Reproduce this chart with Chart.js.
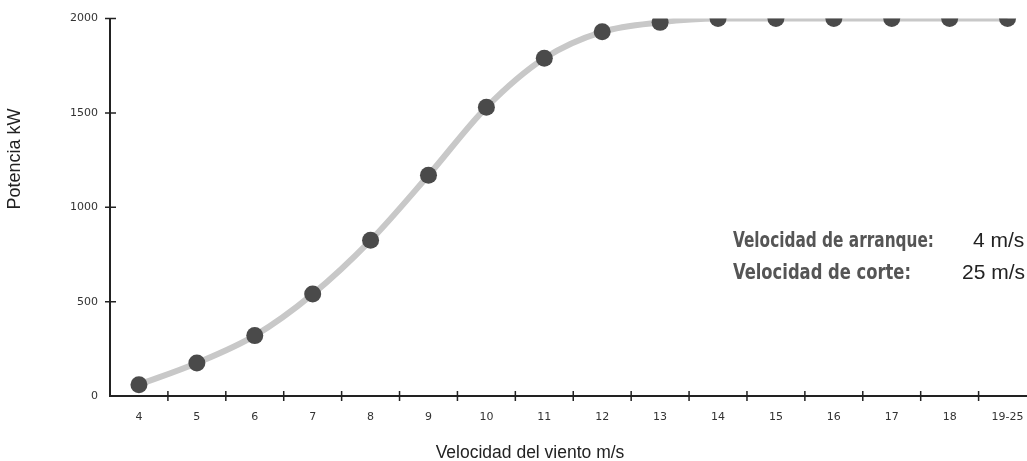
<!DOCTYPE html>
<html>
<head>
<meta charset="utf-8">
<script src="https://cdn.jsdelivr.net/npm/chart.js@4/dist/chart.umd.min.js"></script>
<style>
    html, body { margin: 0; padding: 0; background: #fff; overflow: hidden; }
    #wrap { position: relative; width: 1045px; height: 461px; }
</style>
</head>
<body>
<div id="wrap"><canvas id="powerCurve"></canvas></div>
<script>
const speeds = ['4', '5', '6', '7', '8', '9', '10', '11', '12', '13', '14', '15', '16', '17', '18', '19-25'];
const powerKW = [60, 175, 320, 540, 825, 1170, 1530, 1790, 1930, 1980, 2000, 2000, 2000, 2000, 2000, 2000];
const yTicks = [0, 500, 1000, 1500, 2000];
const noteLabels = ['Velocidad de arranque:', 'Velocidad de corte:'];
const noteValues = ['4 m/s', '25 m/s'];

// cross ticks on both axes, axis titles and the little spec box
const axisDecor = {
    id: 'axisDecor',
    afterDraw(chart) {
        const { ctx, scales: { x, y }, chartArea } = chart;
        ctx.save();
        ctx.strokeStyle = '#222';
        ctx.lineWidth = 1.5;
        ctx.beginPath();
        for (let i = 0; i < speeds.length - 1; i++) {
            const px = (x.getPixelForValue(i) + x.getPixelForValue(i + 1)) / 2;
            ctx.moveTo(px, chartArea.bottom - 5);
            ctx.lineTo(px, chartArea.bottom + 5);
        }
        yTicks.slice(1).forEach(v => {
            const py = y.getPixelForValue(v);
            ctx.moveTo(chartArea.left - 5, py);
            ctx.lineTo(chartArea.left + 6, py);
        });
        ctx.stroke();

        // axis titles
        ctx.fillStyle = '#222';
        ctx.font = '17.5px "Liberation Sans", Arial, sans-serif';
        ctx.textAlign = 'center';
        ctx.textBaseline = 'alphabetic';
        ctx.fillText('Velocidad del viento m/s', 530, 458);
        ctx.save();
        ctx.translate(20, 159);
        ctx.rotate(-Math.PI / 2);
        ctx.font = '18px "Liberation Sans", Arial, sans-serif';
        ctx.fillText('Potencia kW', 0, 0);
        ctx.restore();

        noteLabels.forEach((label, i) => {
            const base = 247 + i * 32;
            ctx.fillStyle = '#555';
            ctx.font = 'bold 21px "Liberation Sans Narrow", "DejaVu Sans Condensed", sans-serif';
            ctx.textAlign = 'left';
            ctx.fillText(label, 733, base, i === 0 ? 201 : 178);
        });
        ctx.fillStyle = '#222';
        ctx.font = '21px "Liberation Sans", Arial, sans-serif';
        ctx.fillText(noteValues[0], 973, 247);
        ctx.fillText(noteValues[1], 962, 279);
        ctx.restore();
    }
};

new Chart(document.getElementById('powerCurve').getContext('2d'), {
    type: 'line',
    data: {
        labels: speeds,
        datasets: [{
            data: powerKW,
            borderColor: '#c8c8c8',
            borderWidth: 6,
            cubicInterpolationMode: 'monotone',
            pointRadius: 8.5,
            pointHoverRadius: 8.5,
            pointBackgroundColor: '#4a4a4a',
            pointBorderColor: '#4a4a4a',
            pointBorderWidth: 0
        }]
    },
    options: {
        responsive: true,
        maintainAspectRatio: false,
        animation: false,
        layout: { padding: { top: 18, right: 8, left: 0, bottom: 0 } },
        plugins: { legend: { display: false }, tooltip: { enabled: false } },
        scales: {
            x: {
                offset: true,
                grid: { display: false, drawTicks: false },
                border: { display: true, color: '#222', width: 2 },
                ticks: { color: '#333', font: { family: 'DejaVu Sans', size: 11 }, padding: 15, maxRotation: 0, autoSkip: false },
                afterFit(scale) { scale.height = 65; }
            },
            y: {
                min: 0,
                max: 2000,
                grid: { display: false, drawTicks: false },
                border: { display: true, color: '#222', width: 2 },
                ticks: {
                    color: '#333',
                    font: { family: 'DejaVu Sans', size: 11 },
                    padding: 12,
                    callback: v => String(v)
                },
                afterBuildTicks(scale) { scale.ticks = yTicks.map(v => ({ value: v })); },
                afterFit(scale) { scale.width = 110; }
            }
        }
    },
    plugins: [axisDecor]
});
</script>
</body>
</html>
